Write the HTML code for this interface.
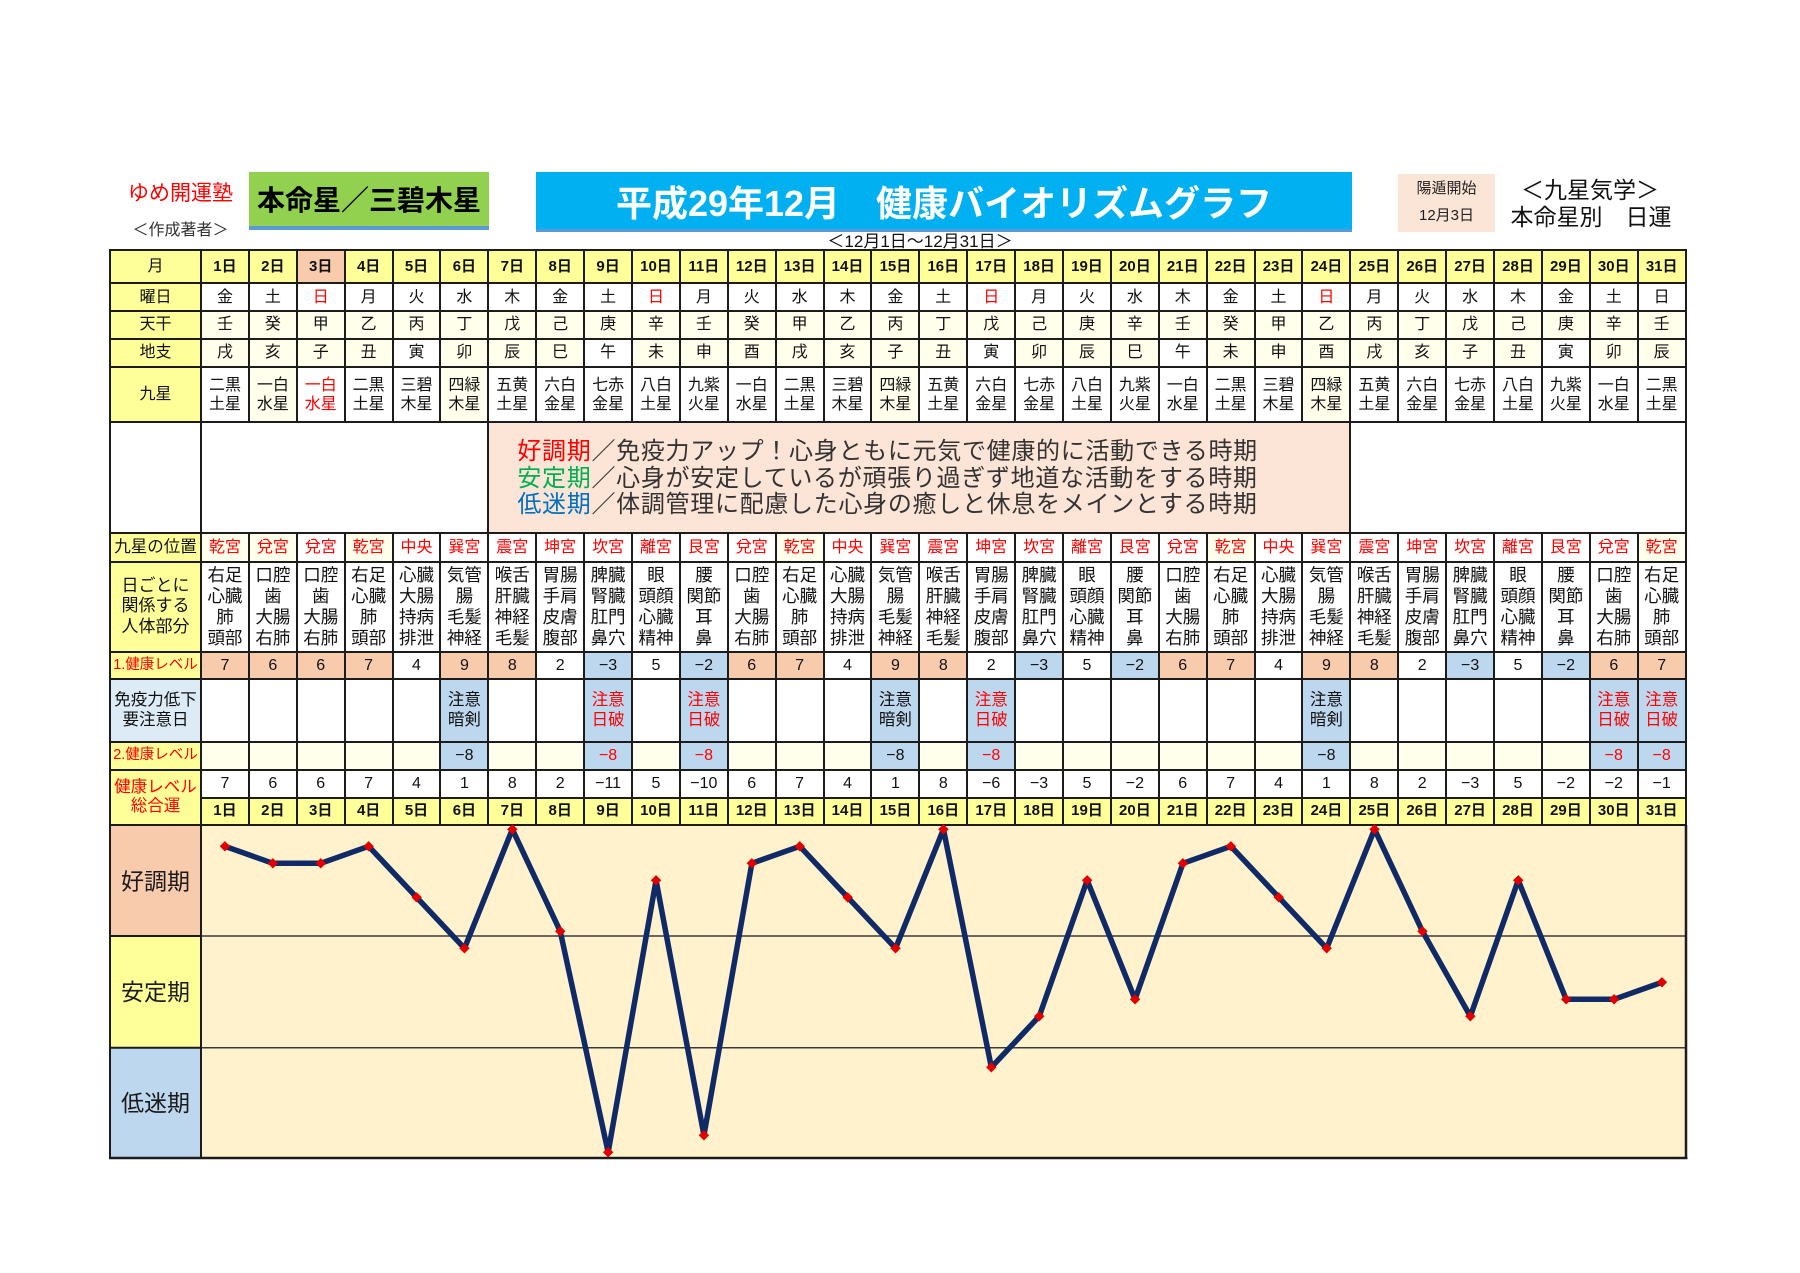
<!DOCTYPE html>
<html lang="ja"><head><meta charset="utf-8"><title>健康バイオリズムグラフ</title>
<style>
body{margin:0;width:1800px;height:1273px;background:#fff;position:relative;overflow:hidden;font-family:"Liberation Sans","Noto Sans CJK JP",sans-serif;color:#111}
.h{position:absolute;display:flex;align-items:center;justify-content:center;white-space:nowrap}
.g{position:absolute;left:109px;top:249px;width:1578px;box-sizing:border-box;padding:2px;background:#1c1c1c;display:grid;grid-template-columns:89px repeat(31,45.9px);gap:2px;grid-template-rows:31.3px 25.7px 26px 26px 53.3px 109px 26.4px 88px 25.6px 60.4px 26.3px 25.7px 25.3px}
.g>div{background:#fff;display:flex;align-items:center;justify-content:center;text-align:center;font-size:16px;line-height:1.2;white-space:nowrap;overflow:hidden;color:#111}
.g>.L{background:#ffff99}
.g>.y{background:#ffffeb}
.g>.p{background:#f8cbad}
.g>.b{background:#bdd7ee}
.g>.r,.r{color:#ff0000}
.g>.d{font-weight:bold;font-size:15px}
.g>.k{line-height:19px}
.g>.t{font-size:17.5px;line-height:21px}
.g>.m{line-height:20px;font-size:16.5px}
.g>.box{display:block;text-align:left;background:#fce4d6;padding:16px 0 0 28px;font-size:24px;line-height:26.5px;letter-spacing:.7px;color:#333}
.gr{color:#00b050}.bl{color:#0070c0}
</style></head><body>

<div class="h" style="left:117px;top:180px;width:127px;height:24px;font-size:21px;color:#ff0000">ゆめ開運塾</div>
<div class="h" style="left:117px;top:218px;width:127px;height:20px;font-size:16px;color:#333">＜作成著者＞</div>
<div class="h" style="left:249px;top:172px;width:240px;height:58px;box-sizing:border-box;background:#92d050;border-bottom:4px solid #5b9bd5;font-size:28px;font-weight:bold;color:#000">本命星／三碧木星</div>
<div class="h" style="left:536px;top:172px;width:816px;height:60px;box-sizing:border-box;background:#00b0f0;border-bottom:3px solid #5b9bd5;font-size:36px;font-weight:bold;color:#fff">平成29年12月　健康バイオリズムグラフ</div>
<div style="position:absolute;left:1398px;top:174px;width:97px;height:58px;background:#fbe5d6"></div>
<div class="h" style="left:1398px;top:177px;width:97px;height:20px;font-size:15px;color:#222">陽遁開始</div>
<div class="h" style="left:1398px;top:204px;width:97px;height:20px;font-size:15px;color:#222">12月3日</div>
<div class="h" style="left:1500px;top:174px;width:180px;height:27px;font-size:23px;color:#111">＜九星気学＞</div>
<div class="h" style="left:1500px;top:201px;width:182px;height:27px;font-size:23px;color:#111">本命星別　日運</div>
<div class="h" style="left:810px;top:229px;width:220px;height:20px;font-size:17px;color:#111">＜12月1日～12月31日＞</div>

<div class="g">
<!-- 月 -->
<div class="L">月</div><div class="L d">1日</div><div class="L d">2日</div><div class="p d">3日</div><div class="L d">4日</div><div class="L d">5日</div><div class="L d">6日</div><div class="L d">7日</div><div class="L d">8日</div><div class="L d">9日</div><div class="L d">10日</div><div class="L d">11日</div><div class="L d">12日</div><div class="L d">13日</div><div class="L d">14日</div><div class="L d">15日</div><div class="L d">16日</div><div class="L d">17日</div><div class="L d">18日</div><div class="L d">19日</div><div class="L d">20日</div><div class="L d">21日</div><div class="L d">22日</div><div class="L d">23日</div><div class="L d">24日</div><div class="L d">25日</div><div class="L d">26日</div><div class="L d">27日</div><div class="L d">28日</div><div class="L d">29日</div><div class="L d">30日</div><div class="L d">31日</div>
<!-- 曜日 -->
<div class="L">曜日</div><div>金</div><div>土</div><div class="r">日</div><div>月</div><div>火</div><div>水</div><div>木</div><div>金</div><div>土</div><div class="r">日</div><div>月</div><div>火</div><div>水</div><div>木</div><div>金</div><div>土</div><div class="r">日</div><div>月</div><div>火</div><div>水</div><div>木</div><div>金</div><div>土</div><div class="r">日</div><div>月</div><div>火</div><div>水</div><div>木</div><div>金</div><div>土</div><div>日</div>
<!-- 天干 -->
<div class="L">天干</div><div class="y">壬</div><div class="y">癸</div><div class="y">甲</div><div class="y">乙</div><div class="y">丙</div><div class="y">丁</div><div class="y">戊</div><div class="y">己</div><div class="y">庚</div><div class="y">辛</div><div class="y">壬</div><div class="y">癸</div><div class="y">甲</div><div class="y">乙</div><div class="y">丙</div><div class="y">丁</div><div class="y">戊</div><div class="y">己</div><div class="y">庚</div><div class="y">辛</div><div class="y">壬</div><div class="y">癸</div><div class="y">甲</div><div class="y">乙</div><div class="y">丙</div><div class="y">丁</div><div class="y">戊</div><div class="y">己</div><div class="y">庚</div><div class="y">辛</div><div class="y">壬</div>
<!-- 地支 -->
<div class="L">地支</div><div class="y">戌</div><div class="y">亥</div><div class="y">子</div><div class="y">丑</div><div>寅</div><div class="y">卯</div><div class="y">辰</div><div class="y">巳</div><div>午</div><div class="y">未</div><div class="y">申</div><div class="y">酉</div><div class="y">戌</div><div class="y">亥</div><div class="y">子</div><div class="y">丑</div><div>寅</div><div class="y">卯</div><div class="y">辰</div><div class="y">巳</div><div>午</div><div class="y">未</div><div class="y">申</div><div class="y">酉</div><div class="y">戌</div><div class="y">亥</div><div class="y">子</div><div class="y">丑</div><div>寅</div><div class="y">卯</div><div class="y">辰</div>
<!-- 九星 -->
<div class="L">九星</div><div class="k">二黒<br>土星</div><div class="k y">一白<br>水星</div><div class="k r">一白<br>水星</div><div class="k">二黒<br>土星</div><div class="k">三碧<br>木星</div><div class="k y">四緑<br>木星</div><div class="k">五黄<br>土星</div><div class="k">六白<br>金星</div><div class="k">七赤<br>金星</div><div class="k">八白<br>土星</div><div class="k">九紫<br>火星</div><div class="k">一白<br>水星</div><div class="k">二黒<br>土星</div><div class="k">三碧<br>木星</div><div class="k y">四緑<br>木星</div><div class="k">五黄<br>土星</div><div class="k">六白<br>金星</div><div class="k">七赤<br>金星</div><div class="k">八白<br>土星</div><div class="k">九紫<br>火星</div><div class="k">一白<br>水星</div><div class="k">二黒<br>土星</div><div class="k">三碧<br>木星</div><div class="k y">四緑<br>木星</div><div class="k">五黄<br>土星</div><div class="k">六白<br>金星</div><div class="k">七赤<br>金星</div><div class="k">八白<br>土星</div><div class="k">九紫<br>火星</div><div class="k">一白<br>水星</div><div class="k">二黒<br>土星</div>
<!-- big row -->
<div></div><div style="grid-column:span 6"></div><div class="box" style="grid-column:span 18"><span class="r">好調期</span>／免疫力アップ！心身ともに元気で健康的に活動できる時期<br><span class="gr">安定期</span>／心身が安定しているが頑張り過ぎず地道な活動をする時期<br><span class="bl">低迷期</span>／体調管理に配慮した心身の癒しと休息をメインとする時期</div><div style="grid-column:span 7"></div>
<!-- 九星の位置 -->
<div class="L" style="font-size:16.5px">九星の位置</div><div class="r y">乾宮</div><div class="r y">兌宮</div><div class="r">兌宮</div><div class="r y">乾宮</div><div class="r">中央</div><div class="r">巽宮</div><div class="r">震宮</div><div class="r">坤宮</div><div class="r">坎宮</div><div class="r">離宮</div><div class="r">艮宮</div><div class="r">兌宮</div><div class="r y">乾宮</div><div class="r">中央</div><div class="r">巽宮</div><div class="r">震宮</div><div class="r">坤宮</div><div class="r">坎宮</div><div class="r">離宮</div><div class="r">艮宮</div><div class="r">兌宮</div><div class="r y">乾宮</div><div class="r">中央</div><div class="r">巽宮</div><div class="r">震宮</div><div class="r">坤宮</div><div class="r">坎宮</div><div class="r">離宮</div><div class="r">艮宮</div><div class="r">兌宮</div><div class="r y">乾宮</div>
<!-- 人体部分 -->
<div class="L" style="font-size:17px;line-height:20.5px">日ごとに<br>関係する<br>人体部分</div>
<div class="t">右足<br>心臓<br>肺<br>頭部</div><div class="t">口腔<br>歯<br>大腸<br>右肺</div><div class="t">口腔<br>歯<br>大腸<br>右肺</div><div class="t">右足<br>心臓<br>肺<br>頭部</div><div class="t">心臓<br>大腸<br>持病<br>排泄</div><div class="t">気管<br>腸<br>毛髪<br>神経</div><div class="t">喉舌<br>肝臓<br>神経<br>毛髪</div><div class="t">胃腸<br>手肩<br>皮膚<br>腹部</div><div class="t">脾臓<br>腎臓<br>肛門<br>鼻穴</div><div class="t">眼<br>頭顔<br>心臓<br>精神</div><div class="t">腰<br>関節<br>耳<br>鼻</div>
<div class="t">口腔<br>歯<br>大腸<br>右肺</div><div class="t">右足<br>心臓<br>肺<br>頭部</div><div class="t">心臓<br>大腸<br>持病<br>排泄</div><div class="t">気管<br>腸<br>毛髪<br>神経</div><div class="t">喉舌<br>肝臓<br>神経<br>毛髪</div><div class="t">胃腸<br>手肩<br>皮膚<br>腹部</div><div class="t">脾臓<br>腎臓<br>肛門<br>鼻穴</div><div class="t">眼<br>頭顔<br>心臓<br>精神</div><div class="t">腰<br>関節<br>耳<br>鼻</div>
<div class="t">口腔<br>歯<br>大腸<br>右肺</div><div class="t">右足<br>心臓<br>肺<br>頭部</div><div class="t">心臓<br>大腸<br>持病<br>排泄</div><div class="t">気管<br>腸<br>毛髪<br>神経</div><div class="t">喉舌<br>肝臓<br>神経<br>毛髪</div><div class="t">胃腸<br>手肩<br>皮膚<br>腹部</div><div class="t">脾臓<br>腎臓<br>肛門<br>鼻穴</div><div class="t">眼<br>頭顔<br>心臓<br>精神</div><div class="t">腰<br>関節<br>耳<br>鼻</div><div class="t">口腔<br>歯<br>大腸<br>右肺</div><div class="t">右足<br>心臓<br>肺<br>頭部</div>
<!-- 1.健康レベル -->
<div class="L r" style="font-size:14.5px">1.健康レベル</div><div class="p">7</div><div class="p">6</div><div class="p">6</div><div class="p">7</div><div>4</div><div class="p">9</div><div class="p">8</div><div>2</div><div class="b">−3</div><div>5</div><div class="b">−2</div><div class="p">6</div><div class="p">7</div><div>4</div><div class="p">9</div><div class="p">8</div><div>2</div><div class="b">−3</div><div>5</div><div class="b">−2</div><div class="p">6</div><div class="p">7</div><div>4</div><div class="p">9</div><div class="p">8</div><div>2</div><div class="b">−3</div><div>5</div><div class="b">−2</div><div class="p">6</div><div class="p">7</div>
<!-- 免疫力低下 -->
<div class="m" style="background:#ddebf7">免疫力低下<br>要注意日</div><div></div><div></div><div></div><div></div><div></div><div class="b m">注意<br>暗剣</div><div></div><div></div><div class="b m r">注意<br>日破</div><div></div><div class="b m r">注意<br>日破</div><div></div><div></div><div></div><div class="b m">注意<br>暗剣</div><div></div><div class="b m r">注意<br>日破</div><div></div><div></div><div></div><div></div><div></div><div></div><div class="b m">注意<br>暗剣</div><div></div><div></div><div></div><div></div><div></div><div class="b m r">注意<br>日破</div><div class="b m r">注意<br>日破</div>
<!-- 2.健康レベル -->
<div class="L r" style="font-size:14.5px">2.健康レベル</div><div class="y"></div><div class="y"></div><div class="y"></div><div class="y"></div><div class="y"></div><div class="b">−8</div><div class="y"></div><div class="y"></div><div class="b r">−8</div><div class="y"></div><div class="b r">−8</div><div class="y"></div><div class="y"></div><div class="y"></div><div class="b">−8</div><div class="y"></div><div class="b r">−8</div><div class="y"></div><div class="y"></div><div class="y"></div><div class="y"></div><div class="y"></div><div class="y"></div><div class="b">−8</div><div class="y"></div><div class="y"></div><div class="y"></div><div class="y"></div><div class="y"></div><div class="b r">−8</div><div class="b r">−8</div>
<!-- 総合運 -->
<div class="L r" style="grid-row:span 2;font-size:16.5px;line-height:19px">健康レベル<br>総合運</div><div>7</div><div>6</div><div>6</div><div>7</div><div>4</div><div>1</div><div>8</div><div>2</div><div>−11</div><div>5</div><div>−10</div><div>6</div><div>7</div><div>4</div><div>1</div><div>8</div><div>−6</div><div>−3</div><div>5</div><div>−2</div><div>6</div><div>7</div><div>4</div><div>1</div><div>8</div><div>2</div><div>−3</div><div>5</div><div>−2</div><div>−2</div><div>−1</div>
<div class="L d">1日</div><div class="L d">2日</div><div class="L d">3日</div><div class="L d">4日</div><div class="L d">5日</div><div class="L d">6日</div><div class="L d">7日</div><div class="L d">8日</div><div class="L d">9日</div><div class="L d">10日</div><div class="L d">11日</div><div class="L d">12日</div><div class="L d">13日</div><div class="L d">14日</div><div class="L d">15日</div><div class="L d">16日</div><div class="L d">17日</div><div class="L d">18日</div><div class="L d">19日</div><div class="L d">20日</div><div class="L d">21日</div><div class="L d">22日</div><div class="L d">23日</div><div class="L d">24日</div><div class="L d">25日</div><div class="L d">26日</div><div class="L d">27日</div><div class="L d">28日</div><div class="L d">29日</div><div class="L d">30日</div><div class="L d">31日</div>
</div>

<svg style="position:absolute;left:0;top:0" width="1800" height="1273" viewBox="0 0 1800 1273">
<defs><marker id="dm" viewBox="-6 -6 12 12" markerWidth="12" markerHeight="12" markerUnits="userSpaceOnUse" refX="0" refY="0"><path d="M0 -5.2L5.2 0 0 5.2 -5.2 0Z" fill="#e00000"/></marker></defs>
<rect x="111" y="826" width="89" height="110" fill="#f8cbad"/>
<rect x="111" y="936" width="89" height="111.7" fill="#ffff99"/>
<rect x="111" y="1047.7" width="89" height="110.3" fill="#bdd7ee"/>
<rect x="202" y="826" width="1483" height="332" fill="#fff2cc"/>
<line x1="201" y1="936" x2="1686" y2="936" stroke="#3a3a3a" stroke-width="1.5"/>
<line x1="201" y1="1047.7" x2="1686" y2="1047.7" stroke="#3a3a3a" stroke-width="1.5"/>
<line x1="110" y1="936" x2="201" y2="936" stroke="#1c1c1c" stroke-width="2"/>
<line x1="110" y1="1047.7" x2="201" y2="1047.7" stroke="#1c1c1c" stroke-width="2"/>
<line x1="110" y1="825" x2="110" y2="1159" stroke="#1c1c1c" stroke-width="2"/>
<line x1="201" y1="825" x2="201" y2="1159" stroke="#1c1c1c" stroke-width="2"/>
<line x1="1686" y1="825" x2="1686" y2="1159" stroke="#1c1c1c" stroke-width="2.5"/>
<line x1="109" y1="1158" x2="1687.5" y2="1158" stroke="#1c1c1c" stroke-width="2.5"/>
<g font-family="Liberation Sans, Noto Sans CJK JP, sans-serif" font-size="23" fill="#1a1a1a" text-anchor="middle">
<text x="155.5" y="889.5">好調期</text>
<text x="155.5" y="1000">安定期</text>
<text x="155.5" y="1111">低迷期</text>
</g>
<polyline fill="none" stroke="#0f2a66" stroke-width="5.5" stroke-linejoin="round" stroke-linecap="round" marker-start="url(#dm)" marker-mid="url(#dm)" marker-end="url(#dm)" points="224.95,846.3 272.85,863.3 320.75,863.3 368.65,846.3 416.55,897.3 464.45,948.3 512.35,829.3 560.25,931.3 608.15,1152.3 656.05,880.3 703.95,1135.3 751.85,863.3 799.75,846.3 847.65,897.3 895.55,948.3 943.45,829.3 991.35,1067.3 1039.25,1016.3 1087.15,880.3 1135.05,999.3 1182.95,863.3 1230.85,846.3 1278.75,897.3 1326.65,948.3 1374.55,829.3 1422.45,931.3 1470.35,1016.3 1518.25,880.3 1566.15,999.3 1614.05,999.3 1661.95,982.3"/>
</svg>
</body></html>
